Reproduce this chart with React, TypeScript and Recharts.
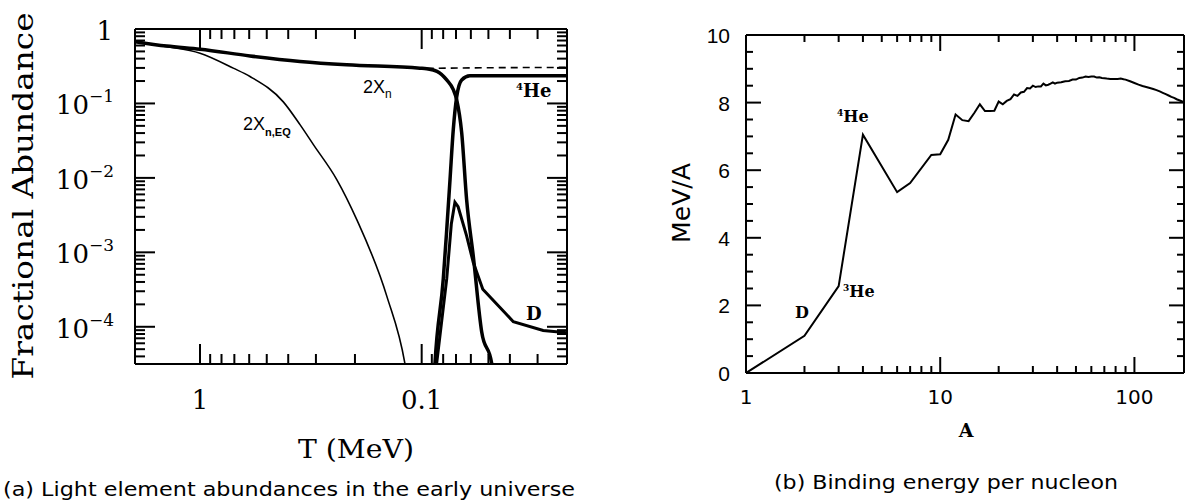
import React from 'react';
import { LineChart, Line, XAxis, YAxis } from 'recharts';

// ---------------- Panel (a): light element abundances vs T (MeV) ----------------
const nEqT = [1.965, 1.413, 1.0, 0.708, 0.595, 0.421, 0.354, 0.308, 0.2416, 0.1965, 0.1438, 0.119, 0.112];
const nEqY = [0.676, 0.58, 0.473, 0.298, 0.23, 0.105, 0.0519, 0.028, 0.0095, 0.00277, 2.6e-4, 3.2e-5, 1e-5];

const nT = [1.965, 1.413, 1.0, 0.595, 0.354, 0.218, 0.1018, 0.0949, 0.0853, 0.0771, 0.072, 0.0695, 0.066, 0.0627, 0.0585, 0.0536, 0.0483, 0.046];
const nY = [0.676, 0.59, 0.535, 0.435, 0.367, 0.33, 0.298, 0.292, 0.27, 0.207, 0.153, 0.112, 0.0405, 0.0051, 8.9e-4, 8.5e-5, 3.2e-5, 1e-5];

const heT = [0.0889, 0.0871, 0.0799, 0.0771, 0.0745, 0.072, 0.0695, 0.066, 0.0606, 0.0221];
const heY = [1e-5, 3.2e-5, 4.4e-4, 2.0e-3, 9.5e-3, 0.045, 0.123, 0.207, 0.235, 0.235];

const dT = [0.0862, 0.0856, 0.0771, 0.0735, 0.0708, 0.0685, 0.0627, 0.0585, 0.053, 0.0386, 0.0283, 0.0221];
const dY = [1e-5, 3.2e-5, 4.4e-4, 2.4e-3, 4.7e-3, 4.1e-3, 1.66e-3, 7.3e-4, 3.2e-4, 1.17e-4, 8.9e-5, 8.3e-5];

const dashT = [0.0949, 0.05, 0.0221];
const dashY = [0.296, 0.302, 0.305];

const tDomain = [0.0221, 1.965];
const abDomain = [Math.pow(10, -4.5), 1];
const tTicks = [1, 0.9, 0.8, 0.7, 0.6, 0.5, 0.4, 0.3, 0.2, 0.1, 0.09, 0.08, 0.07, 0.06, 0.05, 0.04, 0.03];
const decadeExps = [0, -1, -2, -3, -4, -5];
const mantissas = [1, 2, 3, 4, 5, 6, 7, 8, 9];

// ---------------- Panel (b): binding energy per nucleon ----------------
const baA = [1, 2, 3, 4, 6, 7, 9, 10, 11, 12, 13, 14, 15, 16, 17, 18, 19, 20, 21, 22, 23, 24, 25, 26, 27, 28, 29, 30,
  31, 32, 33, 34, 35, 36, 37, 38, 39, 40, 42, 44, 46, 48, 50, 52, 54, 56, 58, 60, 62, 64, 66, 68, 70, 72, 75, 78, 80,
  82, 85, 88, 90, 95, 100, 105, 110, 115, 120, 125, 130, 135, 140, 145, 150, 155, 160, 165, 170, 175, 180];
const baE = [0, 1.1, 2.57, 7.05, 5.35, 5.62, 6.45, 6.47, 6.9, 7.65, 7.48, 7.45, 7.7, 7.95, 7.75, 7.75, 7.76, 8.03, 7.95,
  8.05, 8.1, 8.24, 8.2, 8.3, 8.32, 8.43, 8.42, 8.5, 8.46, 8.48, 8.48, 8.56, 8.51, 8.53, 8.56, 8.6, 8.56, 8.59, 8.6,
  8.63, 8.64, 8.68, 8.68, 8.73, 8.74, 8.77, 8.76, 8.77, 8.77, 8.74, 8.75, 8.73, 8.72, 8.71, 8.7, 8.7, 8.7, 8.7, 8.71,
  8.69, 8.68, 8.63, 8.58, 8.53, 8.49, 8.46, 8.43, 8.4, 8.37, 8.33, 8.29, 8.25, 8.21, 8.17, 8.14, 8.1, 8.07, 8.04, 8.01];

const aDomain = [1, 180];
const eDomain = [0, 10];
const aTicks = [1, 2, 3, 4, 5, 6, 7, 8, 9, 10, 20, 30, 40, 50, 60, 70, 80, 90, 100];
const eTicks = [0, 0.5, 1, 1.5, 2, 2.5, 3, 3.5, 4, 4.5, 5, 5.5, 6, 6.5, 7, 7.5, 8, 8.5, 9, 9.5, 10];
const eLabels = [0, 2, 4, 6, 8, 10];

// ---------------- helpers ----------------
const serif = '"DejaVu Serif", serif';
const sans = '"DejaVu Sans", sans-serif';
const helv = '"Liberation Sans", Arial, sans-serif';

const pts = (xs: number[], ys: number[]) => xs.map((x, i) => ({ x, y: ys[i] }));

const abTicks: number[] = [];
decadeExps.forEach((e) => mantissas.forEach((m) => {
  const v = m * Math.pow(10, e);
  if (v <= 1 + 1e-12 && v >= abDomain[0]) abTicks.push(v);
}));

const isPow10 = (v: number) => {
  const l = Math.log10(v);
  return Math.abs(l - Math.round(l)) < 1e-6;
};

type Orient = 'bottom' | 'top' | 'left' | 'right';

function mkTick(orient: Orient, isMajor: (v: number) => boolean, majLen: number, minLen: number,
  label?: (v: number, x: number, y: number) => React.ReactNode) {
  return (props: any) => {
    const { x, y, payload } = props;
    const v = payload.value as number;
    const m = isMajor(v);
    const len = m ? majLen : minLen;
    let x2 = x, y2 = y;
    if (orient === 'bottom') y2 = y - len;
    else if (orient === 'top') y2 = y + len;
    else if (orient === 'left') x2 = x + len;
    else x2 = x - len;
    return (
      <g>
        <line x1={x} y1={y} x2={x2} y2={y2} stroke="#000" strokeWidth={2} />
        {m && label ? label(v, x, y) : null}
      </g>
    );
  };
}

const tLabel = (v: number, x: number, y: number) => (
  <text x={x} y={y + 45} textAnchor="middle" fontFamily={serif} fontSize={26} fill="#000">
    {v === 1 ? '1' : '0.1'}
  </text>
);

const abLabel = (v: number, x: number, y: number) => {
  const e = Math.round(Math.log10(v));
  if (e === 0) {
    return <text x={x - 22} y={y + 11} textAnchor="end" fontFamily={serif} fontSize={26} fill="#000">1</text>;
  }
  return (
    <text x={x - 21} y={y + 11} textAnchor="end" fontFamily={serif} fontSize={26} fill="#000">
      <tspan>10</tspan>
      <tspan dy={-12} fontSize={17}>{'\u2212' + Math.abs(e)}</tspan>
    </text>
  );
};

const aLabel = (v: number, x: number, y: number) =>
  (v === 1 || v === 10 || v === 100) ? (
    <text x={x} y={y + 31} textAnchor="middle" fontFamily={sans} fontSize={20} fill="#000">{String(v)}</text>
  ) : null;

const eLabel = (v: number, x: number, y: number) => (
  <text x={x - 16} y={y + 8} textAnchor="end" fontFamily={helv} fontSize={21} fill="#000">{String(v)}</text>
);

const isTMajor = (v: number) => isPow10(v);
const isAMajor = (v: number) => isPow10(v);
const isEMajor = (v: number) => eLabels.includes(v);

const axisLine = { stroke: '#000', strokeWidth: 2 };

function PanelA() {
  return (
    <LineChart width={600} height={503} margin={{ top: 28, left: 134, right: 32, bottom: 138 }}>
      <XAxis xAxisId="b" dataKey="x" type="number" scale="log" domain={tDomain} reversed allowDataOverflow
        ticks={tTicks} interval={0} height={1} tickSize={0} tickMargin={0} axisLine={axisLine} tickLine={false}
        tick={mkTick('bottom', isTMajor, 20, 10, tLabel)} />
      <XAxis xAxisId="t" orientation="top" dataKey="x" type="number" scale="log" domain={tDomain} reversed allowDataOverflow
        ticks={tTicks} interval={0} height={1} tickSize={0} tickMargin={0} axisLine={axisLine} tickLine={false}
        tick={mkTick('top', isTMajor, 20, 10)} />
      <YAxis yAxisId="l" type="number" scale="log" domain={abDomain} allowDataOverflow
        ticks={abTicks} interval={0} width={1} tickSize={0} tickMargin={0} axisLine={axisLine} tickLine={false}
        tick={mkTick('left', isPow10, 20, 10, abLabel)} />
      <YAxis yAxisId="r" orientation="right" type="number" scale="log" domain={abDomain} allowDataOverflow
        ticks={abTicks} interval={0} width={1} tickSize={0} tickMargin={0} axisLine={axisLine} tickLine={false}
        tick={mkTick('right', isPow10, 20, 10)} />
      <Line xAxisId="b" yAxisId="l" data={pts(nEqT, nEqY)} dataKey="y" type="monotone" stroke="#000"
        strokeWidth={1.6} dot={false} isAnimationActive={false} />
      <Line xAxisId="b" yAxisId="l" data={pts(dashT, dashY)} dataKey="y" type="linear" stroke="#000"
        strokeWidth={1.6} strokeDasharray="7 5" dot={false} isAnimationActive={false} />
      <Line xAxisId="b" yAxisId="l" data={pts(nT, nY)} dataKey="y" type="monotone" stroke="#000"
        strokeWidth={3.5} dot={false} isAnimationActive={false} />
      <Line xAxisId="b" yAxisId="l" data={pts(heT, heY)} dataKey="y" type="monotone" stroke="#000"
        strokeWidth={3.5} dot={false} isAnimationActive={false} />
      <Line xAxisId="b" yAxisId="l" data={pts(dT, dY)} dataKey="y" type="linear" stroke="#000"
        strokeWidth={3} dot={false} isAnimationActive={false} />
    </LineChart>
  );
}

function PanelB() {
  return (
    <LineChart width={585} height={503} margin={{ top: 34, left: 145, right: 0, bottom: 129 }}>
      <XAxis xAxisId="b" dataKey="x" type="number" scale="log" domain={aDomain} allowDataOverflow
        ticks={aTicks} interval={0} height={1} tickSize={0} tickMargin={0} axisLine={axisLine} tickLine={false}
        tick={mkTick('bottom', isAMajor, 16, 7, aLabel)} />
      <XAxis xAxisId="t" orientation="top" dataKey="x" type="number" scale="log" domain={aDomain} allowDataOverflow
        ticks={aTicks} interval={0} height={1} tickSize={0} tickMargin={0} axisLine={axisLine} tickLine={false}
        tick={mkTick('top', isAMajor, 16, 7)} />
      <YAxis yAxisId="l" type="number" domain={eDomain} allowDataOverflow
        ticks={eTicks} interval={0} width={1} tickSize={0} tickMargin={0} axisLine={axisLine} tickLine={false}
        tick={mkTick('left', isEMajor, 15, 7, eLabel)} />
      <YAxis yAxisId="r" orientation="right" type="number" domain={eDomain} allowDataOverflow
        ticks={eTicks} interval={0} width={1} tickSize={0} tickMargin={0} axisLine={axisLine} tickLine={false}
        tick={mkTick('right', isEMajor, 15, 7)} />
      <Line xAxisId="b" yAxisId="l" data={pts(baA, baE)} dataKey="y" type="linear" stroke="#000"
        strokeWidth={2} dot={false} isAnimationActive={false} />
    </LineChart>
  );
}

function Overlay() {
  return (
    <svg width={1185} height={503} style={{ position: 'absolute', left: 0, top: 0, pointerEvents: 'none' }}>
      {/* panel (a) texts */}
      <text transform="translate(33,196) rotate(-90)" textAnchor="middle" fontFamily={serif} fontSize={28}
        textLength={367} lengthAdjust="spacingAndGlyphs" fill="#000">Fractional Abundance</text>
      <text x={356} y={458} textAnchor="middle" fontFamily={serif} fontSize={26} textLength={116}
        lengthAdjust="spacingAndGlyphs" fill="#000">T (MeV)</text>
      <text x={363} y={93} fontFamily={helv} fontSize={18} fill="#000">2X<tspan fontSize={12} dy={5}>n</tspan></text>
      <text x={243} y={130} fontFamily={helv} fontSize={18} fill="#000">2X<tspan fontSize={11} fontWeight="bold" dy={6}>n,EQ</tspan></text>
      <text x={516} y={97} fontFamily={serif} fontWeight="bold" fontSize={18} fill="#000"><tspan fontSize={10} dy={-7}>4</tspan><tspan dy={7}>He</tspan></text>
      <text x={526} y={320} fontFamily={serif} fontWeight="bold" fontSize={18} fill="#000">D</text>
      <text x={289} y={496} textAnchor="middle" fontFamily={sans} fontSize={20} textLength={572}
        lengthAdjust="spacingAndGlyphs" fill="#000">(a) Light element abundances in the early universe</text>

      {/* panel (b) texts */}
      <text transform="translate(690,203) rotate(-90)" textAnchor="middle" fontFamily={sans} fontSize={24}
        textLength={80} lengthAdjust="spacingAndGlyphs" fill="#000">MeV/A</text>
      <text x={966} y={437} textAnchor="middle" fontFamily={serif} fontWeight="bold" fontSize={19} fill="#000">A</text>
      <text x={837} y={122} fontFamily={serif} fontWeight="bold" fontSize={16} fill="#000"><tspan fontSize={9} dy={-6}>4</tspan><tspan dy={6}>He</tspan></text>
      <text x={843} y={297} fontFamily={serif} fontWeight="bold" fontSize={16} fill="#000"><tspan fontSize={9} dy={-6}>3</tspan><tspan dy={6}>He</tspan></text>
      <text x={795} y={318} fontFamily={serif} fontWeight="bold" fontSize={16} fill="#000">D</text>
      <text x={946} y={489} textAnchor="middle" fontFamily={sans} fontSize={20} textLength={344}
        lengthAdjust="spacingAndGlyphs" fill="#000">(b) Binding energy per nucleon</text>
    </svg>
  );
}

export default function App() {
  return (
    <div style={{ position: 'absolute', left: 0, top: 0, width: 1185, height: 503, background: '#fff', overflow: 'hidden' }}>
      <div style={{ position: 'absolute', left: 0, top: 0 }}><PanelA /></div>
      <div style={{ position: 'absolute', left: 600, top: 0 }}><PanelB /></div>
      <Overlay />
    </div>
  );
}
